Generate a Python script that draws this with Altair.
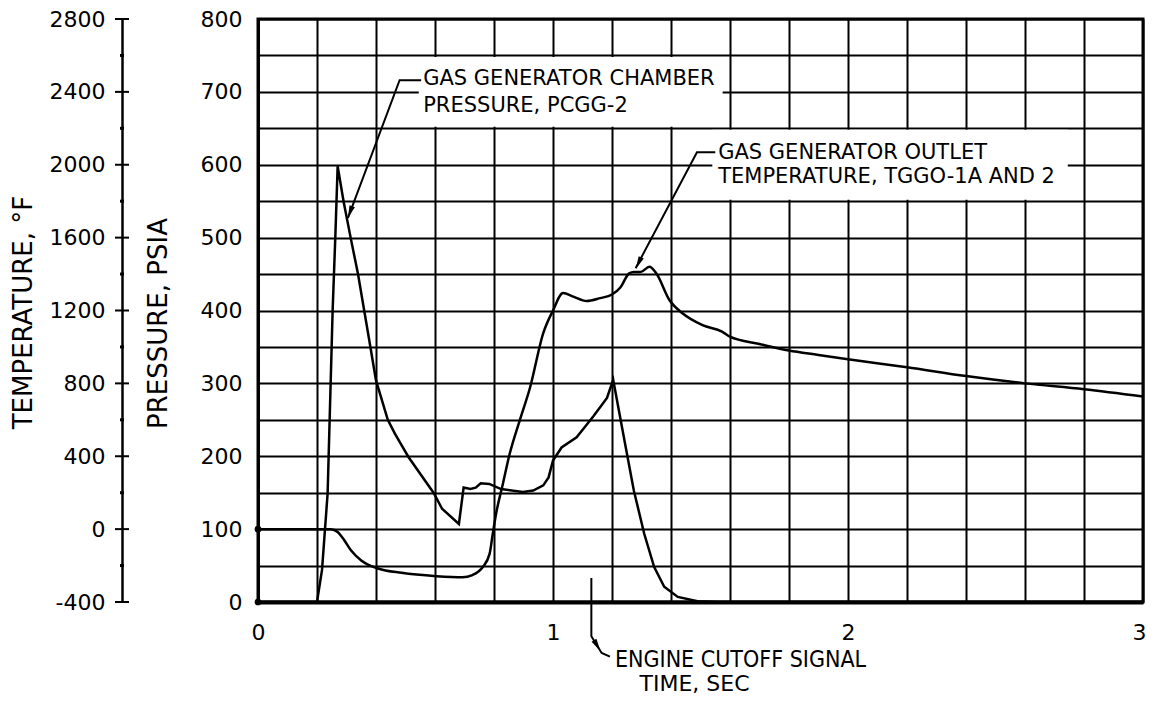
import altair as alt
import pandas as pd

FONT = "DejaVu Sans"
FONT_C = "DejaVu Sans Condensed, DejaVu Sans"

# --- Gas generator chamber pressure, PCGG-2 (psia) ---
time_pcgg = [0.0, 0.20, 0.217, 0.236, 0.253, 0.262, 0.27, 0.29, 0.314, 0.339, 0.36, 0.376,
             0.40, 0.44, 0.464, 0.51, 0.595, 0.624, 0.681, 0.697, 0.72, 0.738, 0.755, 0.784,
             0.824, 0.898, 0.933, 0.967, 0.985, 1.0, 1.029, 1.08, 1.137, 1.183, 1.204, 1.238,
             1.274, 1.309, 1.343, 1.377, 1.423, 1.49, 1.56, 3.0]
pcgg_psia = [0, 0, 44, 149, 400, 500, 598, 550, 500, 450, 400, 362,
             304, 250, 231, 199, 150, 128, 107, 157, 155, 157, 163, 162,
             155, 151, 153, 160, 171, 194, 212, 226, 255, 280, 305, 231,
             153, 94, 48, 21, 7, 1, 0, 0]

# --- Gas generator outlet temperature, TGGO-1A and 2 (deg F) ---
time_tggo = [0.0, 0.247, 0.27, 0.292, 0.315, 0.35, 0.407, 0.487, 0.605, 0.693, 0.727, 0.762,
             0.785, 0.796, 0.807, 0.83, 0.853, 0.887, 0.922, 0.967, 1.0, 1.034, 1.069, 1.114,
             1.16, 1.2, 1.229, 1.258, 1.274, 1.297, 1.327, 1.35, 1.395, 1.44, 1.507, 1.573,
             1.6, 1.7, 1.8, 1.9, 2.0, 2.2, 2.4, 2.6, 2.8, 3.0]
tggo_degF = [0, 0, -16, -60, -116, -172, -216, -240, -258, -264, -252, -208,
             -136, -24, 84, 248, 412, 596, 776, 1076, 1200, 1296, 1276, 1252,
             1268, 1288, 1328, 1404, 1412, 1412, 1440, 1404, 1256, 1184, 1120, 1084,
             1056, 1016, 980, 956, 932, 888, 840, 800, 768, 728]

# --- axis ticks ---
x_ticks = [round(0.2 * i, 1) for i in range(16)]
p_ticks = list(range(0, 801, 50))
T_major = list(range(-400, 2801, 400))
T_minor = list(range(-200, 2601, 400))

# --- annotations ---
ann_text = ["GAS GENERATOR CHAMBER", "PRESSURE, PCGG-2",
            "GAS GENERATOR OUTLET", "TEMPERATURE, TGGO-1A AND 2"]
ann_t = [0.56, 0.56, 1.56, 1.56]
ann_p = [717, 681, 616, 583]

box_t = [0.545, 1.54]
box_t2 = [1.575, 2.745]
box_p = [652, 552]
box_p2 = [748, 648]

leader_id = ["a", "a", "a", "b", "b", "b", "c", "c", "c", "c"]
leader_t = [0.553, 0.48, 0.305, 1.55, 1.488, 1.28, 1.13, 1.13, 1.165, 1.193]
leader_p = [716, 716, 527, 617, 617, 458, 33, -47, -70, -75]
leader_o = [0, 1, 2, 0, 1, 2, 0, 1, 2, 3]

arrow_t = [0.312, 1.29, 1.15]
arrow_p = [535, 465, -60]
arrow_ang = [200, 205, 149]

cutoff_text = ["ENGINE CUTOFF SIGNAL"]
cutoff_t = [1.21]
cutoff_p = [-79]

press_df = pd.DataFrame({"t": time_pcgg, "p": pcgg_psia})
temp_df = pd.DataFrame({"t": time_tggo, "T": tggo_degF})
ann_df = pd.DataFrame({"t": ann_t, "p": ann_p, "label": ann_text})
box_df = pd.DataFrame({"t": box_t, "t2": box_t2, "p": box_p, "p2": box_p2})
lead_df = pd.DataFrame({"t": leader_t, "p": leader_p, "id": leader_id, "o": leader_o})
arrow_df = pd.DataFrame({"t": arrow_t, "p": arrow_p, "ang": arrow_ang})
cut_df = pd.DataFrame({"t": cutoff_t, "p": cutoff_p, "label": cutoff_text})
tmaj_df = pd.DataFrame({"T": T_major})
tmin_df = pd.DataFrame({"T": T_minor})

x_enc = alt.X(
    "t:Q",
    scale=alt.Scale(domain=[0, 3], nice=False, zero=False),
    axis=alt.Axis(
        values=x_ticks,
        labelExpr="abs(datum.value - round(datum.value)) < 0.001 ? '' + round(datum.value) : ''",
        labelAlign={"condition": {"test": "datum.value > 2.99", "value": "right"}, "value": "center"},
        labelOffset={"condition": {"test": "datum.value > 2.99", "value": 3}, "value": 0},
        grid=True, gridColor="black", gridWidth=2, gridOpacity=1,
        domain=True, domainColor="black", domainWidth=4,
        ticks=False, labelPadding=20, labelFlush=False, labelAngle=0,
        labelFont=FONT, labelFontSize=22, labelColor="black",
        titleFont=FONT, titleFontSize=22, titleFontWeight="normal", titleColor="black",
        titleX=436, titleY=81, titleAlign="center", titleBaseline="middle",
    ),
    title="TIME, SEC",
)

y_p = alt.Y(
    "p:Q",
    scale=alt.Scale(domain=[0, 800], nice=False, zero=False),
    axis=alt.Axis(
        orient="left", values=p_ticks,
        labelExpr="datum.value % 100 == 0 ? '' + datum.value : ''",
        grid=True, gridColor="black", gridWidth=2, gridOpacity=1,
        domain=True, domainColor="black", domainWidth=3,
        ticks=False, labelPadding=16,
        labelFont=FONT, labelFontSize=22, labelColor="black",
        titleFont=FONT, titleFontSize=26, titleFontWeight="normal", titleColor="black",
        titleX=-100, titleY=304, titleAlign="center", titleBaseline="middle",
    ),
    title="PRESSURE, PSIA",
)

y_T = alt.Y(
    "T:Q",
    scale=alt.Scale(domain=[-400, 2800], nice=False, zero=False),
    axis=alt.Axis(
        orient="left", offset=136, values=T_major,
        labelExpr="(datum.value < 0 ? '-' : '') + abs(datum.value)",
        grid=False, domain=True, domainColor="black", domainWidth=2.5,
        ticks=False, labelPadding=17,
        labelFont=FONT, labelFontSize=22, labelColor="black",
        titleFont=FONT, titleFontSize=26, titleFontWeight="normal", titleColor="black",
        titleX=-99, titleY=293, titleAlign="center", titleBaseline="middle",
    ),
    title="TEMPERATURE, °F",
)

boxes = alt.Chart(box_df).mark_rect(fill="white", strokeWidth=0).encode(
    x=x_enc, x2=alt.X2("t2"), y=y_p, y2=alt.Y2("p2"))
texts = alt.Chart(ann_df).mark_text(
    align="left", baseline="middle", font=FONT, fontSize=21, color="black"
).encode(x=x_enc, y=y_p, text="label:N")
leaders = alt.Chart(lead_df).mark_line(color="black", strokeWidth=2).encode(
    x=x_enc, y=y_p, detail="id:N", order="o:Q")
arrows = alt.Chart(arrow_df).mark_point(
    shape="M0,-1L0.45,1L-0.45,1Z", filled=True, color="black", opacity=1, size=160
).encode(x=x_enc, y=y_p, angle=alt.Angle("ang:Q", scale=None))
cut_text = alt.Chart(cut_df).mark_text(
    align="left", baseline="middle", font=FONT_C, fontSize=23, color="black"
).encode(x=x_enc, y=y_p, text="label:N")
press_line = alt.Chart(press_df).mark_line(color="black", strokeWidth=2.5).encode(x=x_enc, y=y_p)
press_dot = alt.Chart(press_df.head(1)).mark_point(
    filled=True, color="black", opacity=1, size=45).encode(x=x_enc, y=y_p)

temp_line = alt.Chart(temp_df).mark_line(
    color="black", strokeWidth=2.5, interpolate="monotone").encode(x=x_enc, y=y_T)
temp_dot = alt.Chart(temp_df.head(1)).mark_point(
    filled=True, color="black", opacity=1, size=45).encode(x=x_enc, y=y_T)
tmaj = alt.Chart(tmaj_df).mark_rule(color="black", strokeWidth=2).encode(
    x=alt.value(-143), x2=alt.value(-129), y=y_T)
tmin = alt.Chart(tmin_df).mark_rule(color="black", strokeWidth=3).encode(
    x=alt.value(-138), x2=alt.value(-134), y=y_T)

pressure_group = alt.layer(boxes, texts, leaders, arrows, cut_text, press_line, press_dot)
temp_group = alt.layer(temp_line, temp_dot, tmaj, tmin)

chart = alt.layer(pressure_group, temp_group).resolve_scale(y="independent").properties(
    width=885, height=583,
    autosize=alt.AutoSizeParams(type="none"),
    padding={"left": 250, "top": 11, "right": 3, "bottom": 94},
    background="white",
).configure_view(stroke="black", strokeWidth=3)

chart.save("out.html", embed_options={"renderer": "svg", "actions": False})
